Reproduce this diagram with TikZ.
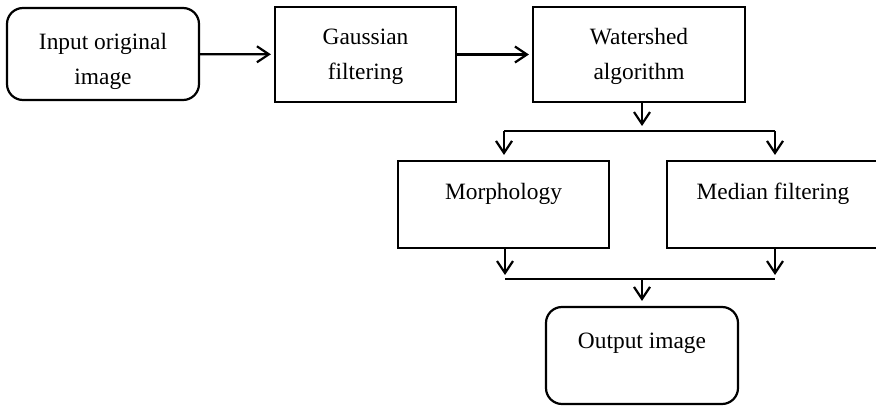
\documentclass[tikz,border=0pt]{standalone}
\usepackage{fontspec}
\setmainfont{Liberation Serif}
\usetikzlibrary{arrows.meta}
\begin{document}
\begin{tikzpicture}[x=1pt,y=-1pt, line width=2.2pt,
  box/.style={draw, rectangle, inner xsep=0pt, inner ysep=0pt, minimum height=0pt,
    font=\fontsize{23.4}{35.5}\selectfont, align=center},
  rbox/.style={box, rounded corners=16pt},
  arr/.style={-{Straight Barb[length=12pt,width=16pt]}},
]
\clip (0,0) rectangle (876,406);
\node[rbox, minimum width=192pt, text height=77pt, text depth=15pt] (in) at (103,54) {Input original\\image};
\node[box, minimum width=181pt, text height=73pt, text depth=22pt] (gauss) at (365.5,54.5) {Gaussian\\filtering};
\node[box, minimum width=212pt, text height=73pt, text depth=22pt] (water) at (639,54.5) {Watershed\\algorithm};
\node[box, minimum width=211pt, text height=39pt, text depth=48pt] (morph) at (503.5,204.5) {Morphology};
\node[box, minimum width=212pt, text height=39pt, text depth=48pt] (median) at (773,204.5) {Median filtering};
\node[rbox, minimum width=192pt, text height=41pt, text depth=56pt] (out) at (642,355.5) {Output image};

\coordinate (wtip) at (642,126);
\coordinate (sL) at (504,131);
\coordinate (sR) at (775,131);
\coordinate (jL) at (505,279);
\coordinate (jR) at (775,279);
\coordinate (jM) at (642,279);

\draw[arr, shorten >=3pt] (in) -- (gauss);
\draw[arr, shorten >=3pt] (gauss) -- (water);
\draw[arr] (water.south -| wtip) -- (wtip);
\draw (sL) -- (sR);
\draw[arr, shorten >=5pt] (sL) -- (sL |- morph.north);
\draw[arr, shorten >=5pt] (sR) -- (sR |- median.north);
\draw[arr, shorten >=4pt] (morph.south -| jL) -- (jL);
\draw[arr, shorten >=4pt] (median.south -| jR) -- (jR);
\draw (jL) -- (jR);
\draw[arr, shorten >=5pt] (jM) -- (out.north);
\end{tikzpicture}
\end{document}
